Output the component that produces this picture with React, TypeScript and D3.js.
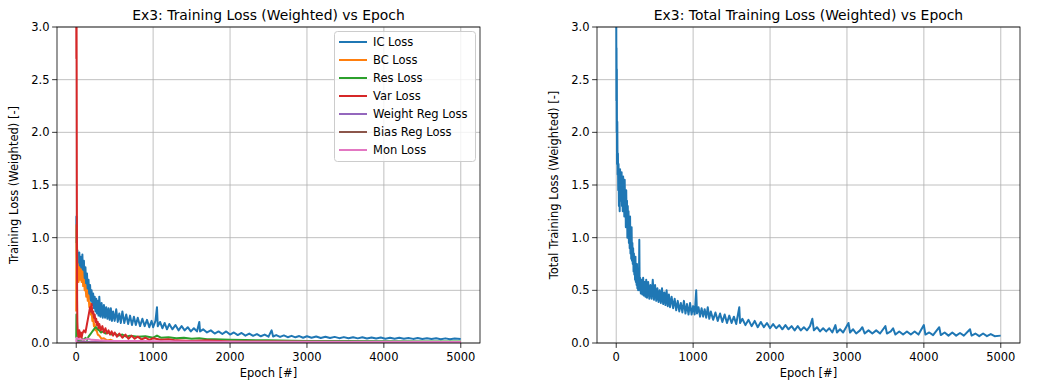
import React from 'react'
import * as d3 from 'd3'

type Pt = [number, number]

// epoch, value pairs
const icLoss: Pt[] = [[0,0.95],[3,1.2],[6,0.9],[10,0.75],[15,0.88],[20,0.62],[25,0.85],[30,0.66],[40,0.86],[50,0.62],[60,0.82],[70,0.6],[80,0.84],[90,0.58],[100,0.78],[110,0.55],[120,0.72],[130,0.5],[140,0.66],[150,0.47],[160,0.6],[170,0.42],[180,0.55],[190,0.4],[200,0.5],[210,0.36],[220,0.47],[230,0.33],[240,0.44],[250,0.3],[260,0.42],[270,0.28],[280,0.4],[290,0.26],[300,0.44],[315,0.25],[330,0.38],[345,0.24],[360,0.36],[375,0.24],[390,0.34],[405,0.23],[420,0.33],[435,0.22],[450,0.33],[465,0.21],[480,0.3],[500,0.21],[520,0.32],[540,0.2],[560,0.28],[580,0.19],[600,0.3],[625,0.19],[650,0.27],[675,0.18],[700,0.26],[725,0.17],[750,0.25],[775,0.17],[800,0.24],[830,0.16],[860,0.23],[890,0.16],[920,0.22],[950,0.15],[980,0.21],[1000,0.15],[1030,0.21],[1050,0.34],[1060,0.16],[1090,0.2],[1120,0.14],[1150,0.19],[1180,0.13],[1210,0.18],[1250,0.13],[1290,0.17],[1330,0.12],[1370,0.16],[1410,0.12],[1450,0.15],[1490,0.11],[1530,0.14],[1570,0.11],[1600,0.2],[1610,0.11],[1650,0.13],[1700,0.1],[1750,0.12],[1800,0.09],[1850,0.11],[1900,0.085],[1950,0.11],[2000,0.08],[2050,0.1],[2100,0.075],[2150,0.095],[2200,0.07],[2250,0.09],[2300,0.068],[2350,0.085],[2400,0.064],[2450,0.08],[2500,0.06],[2540,0.12],[2560,0.062],[2600,0.075],[2650,0.058],[2700,0.072],[2750,0.055],[2800,0.068],[2850,0.054],[2900,0.066],[2950,0.05],[3000,0.064],[3060,0.05],[3120,0.062],[3180,0.048],[3240,0.06],[3300,0.047],[3360,0.058],[3420,0.046],[3480,0.056],[3540,0.045],[3600,0.055],[3660,0.044],[3720,0.054],[3780,0.043],[3840,0.053],[3900,0.042],[3960,0.052],[4020,0.041],[4080,0.05],[4140,0.04],[4200,0.049],[4260,0.04],[4320,0.048],[4380,0.039],[4440,0.047],[4500,0.038],[4560,0.046],[4620,0.037],[4680,0.045],[4740,0.036],[4800,0.044],[4860,0.036],[4920,0.043],[4999,0.038]]

const bcLoss: Pt[] = [[0,0.3],[3,1.12],[6,0.8],[10,0.95],[15,0.65],[20,0.75],[30,0.58],[40,0.72],[50,0.6],[60,0.7],[70,0.58],[80,0.68],[90,0.54],[100,0.6],[110,0.5],[120,0.55],[130,0.44],[140,0.5],[150,0.4],[160,0.45],[170,0.34],[180,0.38],[190,0.27],[200,0.3],[210,0.21],[220,0.24],[230,0.16],[240,0.18],[250,0.12],[260,0.13],[280,0.08],[300,0.07],[330,0.04],[360,0.045],[400,0.025],[450,0.03],[500,0.015],[600,0.015],[800,0.01],[1000,0.01],[1500,0.008],[2000,0.007],[3000,0.006],[4000,0.005],[4999,0.005]]

const resLoss: Pt[] = [[0,0.05],[3,0.27],[6,0.1],[10,0.03],[20,0.02],[40,0.03],[60,0.02],[80,0.04],[100,0.03],[120,0.05],[140,0.03],[160,0.06],[180,0.08],[200,0.1],[220,0.12],[240,0.14],[260,0.15],[280,0.13],[300,0.12],[320,0.1],[350,0.11],[380,0.09],[420,0.1],[460,0.08],[500,0.09],[550,0.07],[600,0.08],[650,0.06],[700,0.07],[800,0.06],[900,0.065],[1000,0.05],[1050,0.07],[1100,0.05],[1200,0.055],[1300,0.045],[1400,0.05],[1500,0.04],[1600,0.045],[1700,0.035],[1800,0.035],[2000,0.03],[2200,0.028],[2500,0.025],[2800,0.022],[3000,0.02],[3500,0.018],[4000,0.016],[4500,0.015],[4999,0.014]]

const varLoss: Pt[] = [[0,3.5],[2,2.7],[4,3.2],[6,2.5],[8,1.5],[10,0.8],[12,0.4],[15,0.2],[20,0.1],[30,0.05],[40,0.12],[50,0.06],[60,0.1],[70,0.05],[80,0.09],[100,0.12],[120,0.1],[140,0.18],[150,0.22],[160,0.26],[170,0.3],[180,0.34],[190,0.3],[200,0.37],[210,0.28],[220,0.3],[230,0.24],[240,0.27],[250,0.2],[260,0.23],[270,0.17],[280,0.2],[290,0.14],[300,0.18],[320,0.12],[340,0.16],[360,0.1],[380,0.14],[400,0.09],[420,0.12],[440,0.08],[460,0.11],[480,0.07],[500,0.1],[530,0.06],[560,0.09],[600,0.05],[640,0.08],[680,0.04],[720,0.07],[760,0.04],[800,0.06],[850,0.035],[900,0.05],[950,0.03],[1000,0.045],[1100,0.03],[1200,0.035],[1300,0.025],[1500,0.02],[1700,0.025],[2000,0.015],[2500,0.015],[3000,0.012],[4000,0.01],[4999,0.01]]

const weightRegLoss: Pt[] = [[0,0.012],[500,0.009],[1000,0.008],[2000,0.006],[3000,0.005],[4000,0.005],[4999,0.004]]

const biasRegLoss: Pt[] = [[0,0.002],[1000,0.002],[2500,0.001],[4999,0.001]]

const monLoss: Pt[] = [[0,0.01],[5,0.05],[20,0.04],[50,0.035],[100,0.03],[150,0.042],[200,0.03],[300,0.025],[400,0.022],[600,0.02],[800,0.018],[1000,0.016],[1500,0.015],[2000,0.013],[3000,0.012],[4000,0.011],[4999,0.01]]

const totalLoss: Pt[] = [[0,3.4],[2,2.3],[4,2.8],[6,2.0],[8,2.6],[10,1.7],[14,2.1],[18,1.6],[22,1.8],[26,1.45],[30,1.7],[35,1.3],[40,1.6],[45,1.25],[50,1.65],[55,1.35],[60,1.55],[65,1.4],[70,1.62],[75,1.3],[80,1.5],[85,1.25],[90,1.58],[95,1.35],[100,1.5],[105,1.2],[110,1.55],[115,1.3],[120,1.4],[125,1.1],[130,1.45],[135,1.15],[140,1.35],[145,1.0],[150,1.3],[155,1.05],[160,1.25],[165,0.95],[170,1.15],[175,0.9],[180,1.2],[185,0.85],[190,1.05],[195,0.8],[200,1.1],[205,0.78],[210,0.95],[215,0.75],[220,0.9],[225,0.68],[230,0.85],[235,0.65],[240,0.8],[245,0.6],[250,0.82],[255,0.58],[260,0.72],[265,0.55],[270,0.75],[275,0.52],[280,0.68],[285,0.5],[290,0.65],[295,0.52],[300,0.98],[305,0.5],[310,0.62],[320,0.47],[330,0.6],[340,0.46],[350,0.62],[360,0.45],[370,0.58],[380,0.44],[390,0.6],[400,0.43],[415,0.58],[430,0.42],[445,0.55],[460,0.42],[475,0.6],[490,0.41],[505,0.55],[520,0.4],[535,0.52],[550,0.39],[565,0.5],[580,0.38],[595,0.52],[610,0.37],[625,0.48],[640,0.36],[655,0.5],[670,0.35],[685,0.46],[700,0.34],[720,0.44],[740,0.33],[760,0.42],[780,0.31],[800,0.4],[820,0.3],[840,0.38],[860,0.29],[880,0.4],[900,0.28],[920,0.37],[940,0.27],[960,0.38],[980,0.27],[1000,0.35],[1020,0.27],[1040,0.5],[1050,0.28],[1070,0.34],[1090,0.25],[1110,0.33],[1130,0.25],[1150,0.32],[1170,0.24],[1190,0.34],[1210,0.23],[1230,0.3],[1260,0.22],[1290,0.29],[1320,0.21],[1350,0.28],[1380,0.2],[1410,0.27],[1440,0.19],[1470,0.26],[1500,0.19],[1530,0.25],[1560,0.18],[1600,0.34],[1610,0.19],[1640,0.23],[1680,0.17],[1720,0.22],[1760,0.16],[1800,0.21],[1840,0.15],[1880,0.2],[1920,0.15],[1960,0.19],[2000,0.14],[2040,0.18],[2080,0.14],[2120,0.17],[2160,0.13],[2200,0.17],[2240,0.13],[2280,0.16],[2320,0.12],[2360,0.16],[2400,0.12],[2440,0.15],[2480,0.12],[2520,0.16],[2550,0.23],[2570,0.12],[2610,0.15],[2650,0.11],[2690,0.14],[2730,0.11],[2770,0.14],[2810,0.1],[2850,0.17],[2870,0.1],[2910,0.13],[2950,0.1],[3020,0.19],[3040,0.1],[3080,0.13],[3120,0.09],[3170,0.12],[3200,0.15],[3230,0.09],[3280,0.12],[3330,0.09],[3380,0.12],[3430,0.09],[3500,0.16],[3520,0.09],[3570,0.11],[3600,0.14],[3630,0.08],[3680,0.11],[3730,0.08],[3780,0.11],[3830,0.08],[3880,0.11],[3930,0.08],[4000,0.17],[4020,0.08],[4070,0.1],[4120,0.075],[4200,0.15],[4220,0.075],[4270,0.1],[4320,0.07],[4370,0.1],[4420,0.07],[4470,0.095],[4520,0.07],[4600,0.13],[4620,0.07],[4670,0.09],[4720,0.065],[4770,0.09],[4820,0.065],[4870,0.085],[4920,0.065],[4999,0.07]]

const seriesNames = ['IC Loss', 'BC Loss', 'Res Loss', 'Var Loss', 'Weight Reg Loss', 'Bias Reg Loss', 'Mon Loss']
const seriesData = [icLoss, bcLoss, resLoss, varLoss, weightRegLoss, biasRegLoss, monLoss]
const seriesColors = ['#1f77b4', '#ff7f0e', '#2ca02c', '#d62728', '#9467bd', '#8c564b', '#e377c2']

const xTicks = [0, 1000, 2000, 3000, 4000, 5000]
const yTicks = [0, 0.5, 1.0, 1.5, 2.0, 2.5, 3.0]

const FONT = 'DejaVu Sans, sans-serif'
const top = 27
const bottom = 343

function Panel({ left, right, title, yLabel, series, colors, names, showLegend, id }: any) {
  const x = d3.scaleLinear().domain([-250, 5249.95]).range([left, right])
  const y = d3.scaleLinear().domain([0, 3]).range([bottom, top])
  const line = d3.line<Pt>().x(d => x(d[0])).y(d => y(d[1]))
  const cx = (left + right) / 2

  return (
    <g fontFamily={FONT}>
      <defs>
        <clipPath id={id}>
          <rect x={left} y={top} width={right - left} height={bottom - top} />
        </clipPath>
      </defs>
      {/* grid */}
      {xTicks.map(t => (
        <line key={'gx' + t} x1={x(t)} x2={x(t)} y1={top} y2={bottom} stroke="#b0b0b0" strokeWidth={0.8} />
      ))}
      {yTicks.map(t => (
        <line key={'gy' + t} x1={left} x2={right} y1={y(t)} y2={y(t)} stroke="#b0b0b0" strokeWidth={0.8} />
      ))}
      <g clipPath={`url(#${id})`}>
        {series.map((s: Pt[], i: number) => (
          <path key={i} d={line(s) || ''} fill="none" stroke={colors[i]} strokeWidth={2} strokeLinejoin="round" />
        ))}
      </g>
      <rect x={left} y={top} width={right - left} height={bottom - top} fill="none" stroke="#000" strokeWidth={0.8} />
      {/* x axis */}
      {xTicks.map(t => (
        <g key={'tx' + t}>
          <line x1={x(t)} x2={x(t)} y1={bottom} y2={bottom + 4.9} stroke="#000" strokeWidth={0.8} />
          <text x={x(t)} y={bottom + 18} textAnchor="middle" fontSize={11.5} fill="#000">{t}</text>
        </g>
      ))}
      {yTicks.map(t => (
        <g key={'ty' + t}>
          <line x1={left - 4.9} x2={left} y1={y(t)} y2={y(t)} stroke="#000" strokeWidth={0.8} />
          <text x={left - 7.5} y={y(t)} dy="0.35em" textAnchor="end" fontSize={11.5} fill="#000">{t.toFixed(1)}</text>
        </g>
      ))}
      <text x={cx} y={377} textAnchor="middle" fontSize={11.5} fill="#000">Epoch [#]</text>
      <text transform={`translate(${left - 39},${(top + bottom) / 2}) rotate(-90)`} textAnchor="middle" fontSize={11.5} fill="#000">{yLabel}</text>
      <text x={cx} y={20} textAnchor="middle" fontSize={13.9} fill="#000">{title}</text>
      {showLegend && (
        <g>
          <rect x={334.5} y={31.5} width={141} height={130} rx={3} fill="#fff" fillOpacity={0.8} stroke="#cccccc" strokeWidth={1} />
          {names.map((n: string, i: number) => (
            <g key={n}>
              <line x1={339} x2={367} y1={42 + i * 18} y2={42 + i * 18} stroke={colors[i]} strokeWidth={2} />
              <text x={373} y={42 + i * 18} dy="0.35em" fontSize={11.5} fill="#000">{n}</text>
            </g>
          ))}
        </g>
      )}
    </g>
  )
}

export default function App() {
  return (
    <svg width={1038} height={389} style={{ position: 'absolute', left: 0, top: 0, background: '#fff' }}>
      <rect width={1038} height={389} fill="#fff" />
      <Panel
        id="clipL"
        left={57}
        right={480}
        title="Ex3: Training Loss (Weighted) vs Epoch"
        yLabel="Training Loss (Weighted) [-]"
        series={seriesData}
        colors={seriesColors}
        names={seriesNames}
        showLegend
      />
      <Panel
        id="clipR"
        left={597}
        right={1020}
        title="Ex3: Total Training Loss (Weighted) vs Epoch"
        yLabel="Total Training Loss (Weighted) [-]"
        series={[totalLoss]}
        colors={['#1f77b4']}
        names={[]}
        showLegend={false}
      />
    </svg>
  )
}
